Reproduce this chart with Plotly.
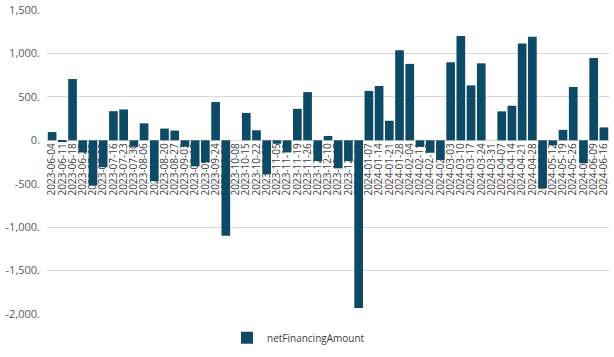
import plotly.graph_objects as go

dates = [
    "2023-06-04", "2023-06-11", "2023-06-18", "2023-06-25", "2023-07-02", "2023-07-09",
    "2023-07-16", "2023-07-23", "2023-07-30", "2023-08-06", "2023-08-13", "2023-08-20",
    "2023-08-27", "2023-09-03", "2023-09-10", "2023-09-17", "2023-09-24", "2023-10-01",
    "2023-10-08", "2023-10-15", "2023-10-22", "2023-10-29", "2023-11-05", "2023-11-12",
    "2023-11-19", "2023-11-26", "2023-12-03", "2023-12-10", "2023-12-17", "2023-12-24",
    "2023-12-31", "2024-01-07", "2024-01-14", "2024-01-21", "2024-01-28", "2024-02-04",
    "2024-02-11", "2024-02-18", "2024-02-25", "2024-03-03", "2024-03-10", "2024-03-17",
    "2024-03-24", "2024-03-31", "2024-04-07", "2024-04-14", "2024-04-21", "2024-04-28",
    "2024-05-05", "2024-05-12", "2024-05-19", "2024-05-26", "2024-06-02", "2024-06-09",
    "2024-06-16",
]

net_financing_amount = [
    95, -10, 705, -140, -520, -310,
    335, 355, -75, 195, -470, 135,
    112, -75, -300, -255, 440, -1100,
    0, 315, 115, -390, -40, -140,
    362, 555, -240, 50, -323, -240,
    -1930, 568, 625, 225, 1037, 880,
    -76, -144, -227, 898, 1200, 632,
    886, 0, 333, 398, 1114, 1193,
    -550, -57, 120, 614, -265, 947,
    148,
]

y_ticks = [-2000, -1500, -1000, -500, 0, 500, 1000, 1500]
y_tick_labels = ["-2,000.", "-1,500.", "-1,000.", "-500.", "0.", "500.", "1,000.", "1,500."]

fig = go.Figure()
fig.add_trace(go.Bar(
    x=dates,
    y=net_financing_amount,
    name="netFinancingAmount",
    marker=dict(color="#0D4A66", line=dict(width=0)),
    showlegend=True,
))

y_min, y_max = -2000, 1500
zero_pos = (0 - y_min) / (y_max - y_min)

fig.update_layout(
    width=614,
    height=357,
    margin=dict(l=47, r=5, t=10, b=38),
    paper_bgcolor="white",
    plot_bgcolor="white",
    bargap=0.15,
    font=dict(family="Open Sans", size=11, color="#595959"),
    showlegend=True,
    legend=dict(
        orientation="h",
        x=0.4475, xanchor="center",
        y=-0.078, yanchor="middle",
        font=dict(size=10, color="#404040"),
        bgcolor="rgba(0,0,0,0)",
        itemwidth=30,
    ),
    xaxis=dict(
        type="category",
        anchor="free",
        position=zero_pos,
        range=[-0.5, len(dates) - 0.5],
        tickmode="array",
        tickvals=dates,
        ticktext=dates,
        tickangle=-90,
        showgrid=False,
        showline=False,
        ticks="",
        tickfont=dict(size=10, color="#404040"),
        layer="below traces",
        automargin=False,
    ),
    yaxis=dict(
        range=[y_min, y_max],
        tickmode="array",
        tickvals=y_ticks,
        ticktext=y_tick_labels,
        showgrid=True,
        gridcolor="#D9D9D9",
        gridwidth=1,
        zeroline=False,
        showline=False,
        ticks="",
        ticklabelstandoff=6,
        tickfont=dict(size=11, color="#595959"),
        automargin=False,
    ),
)

fig.write_html(
    "out.html",
    config={"displayModeBar": False},
    post_script=["document.body.style.margin='0';document.body.style.overflow='hidden';"],
)
